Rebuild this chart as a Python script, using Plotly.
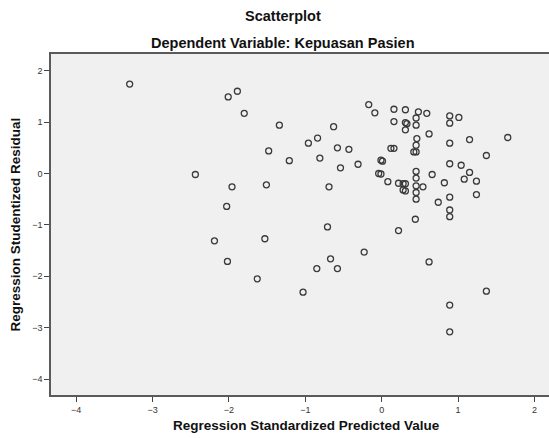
import plotly.graph_objects as go

# Regression Standardized Predicted Value (x) and Regression Studentized Residual (y)
pred = [-3.30, -2.44, -2.01, -1.89, -1.80, -1.34, -1.48, -1.21, -1.96, -1.51,
        -2.03, -0.96, -0.84, -0.63, -0.58, -0.43, -0.81, -0.54, -0.31, -0.69,
        -0.17, -0.09, 0.16, 0.31, 0.48, 0.59, 0.45, 0.16, 0.31, 0.33,
        0.45, 0.31, 0.89, 0.89, 1.01, 0.62, 0.46, 0.45, 0.42, 0.45,
        0.12, 0.16, 0.89, 1.15, 1.65, 1.37, -0.01, 0.01, 0.89, 1.04,
        -0.04, -0.01, 0.08, 0.22, 0.28, 0.31, 0.28, 0.31, 0.45, 0.45,
        0.45, 0.45, 0.45, 0.54, 0.66, 0.82, 0.89, 0.74, 0.89, 0.89,
        1.08, 1.15, 1.24, 1.24, 0.44, 0.22, -0.23, 0.62, 1.37, 0.89,
        0.89, -2.19, -2.02, -1.53, -1.63, -0.71, -0.67, -0.85, -0.58, -1.03]
resid = [1.74, -0.02, 1.49, 1.60, 1.17, 0.94, 0.44, 0.25, -0.26, -0.22,
         -0.64, 0.59, 0.69, 0.91, 0.50, 0.47, 0.30, 0.11, 0.18, -0.26,
         1.34, 1.18, 1.25, 1.24, 1.20, 1.17, 1.08, 1.01, 0.99, 0.97,
         0.94, 0.85, 1.12, 0.98, 1.09, 0.77, 0.68, 0.55, 0.42, 0.42,
         0.49, 0.49, 0.59, 0.66, 0.70, 0.35, 0.26, 0.24, 0.19, 0.16,
         0.00, -0.01, -0.16, -0.19, -0.20, -0.20, -0.32, -0.34, 0.04, -0.09,
         -0.24, -0.37, -0.50, -0.26, -0.02, -0.18, -0.46, -0.56, -0.71, -0.84,
         -0.11, 0.02, -0.15, -0.41, -0.89, -1.11, -1.53, -1.72, -2.29, -2.56,
         -3.08, -1.31, -1.71, -1.27, -2.05, -1.04, -1.66, -1.85, -1.85, -2.31]

x_ticks = [-4, -3, -2, -1, 0, 1, 2]
y_ticks = [-4, -3, -2, -1, 0, 1, 2]

FONT = "Liberation Sans, Arial, sans-serif"

fig = go.Figure()
fig.add_trace(go.Scatter(
    x=pred, y=resid, mode="markers",
    marker=dict(symbol="circle-open", size=6, color="#3a3a3a",
                line=dict(width=1.3, color="#3a3a3a")),
    hoverinfo="x+y", showlegend=False,
))

axis_common = dict(
    showgrid=False, zeroline=False, showline=True, linecolor="#5a5a5a",
    linewidth=1.6, ticks="outside", ticklen=5, tickwidth=1.2, tickcolor="#444",
    tickfont=dict(family=FONT, size=9, color="#333"),
)

fig.update_layout(
    width=549, height=438,
    margin=dict(l=51, r=0, t=54, b=43),
    paper_bgcolor="white", plot_bgcolor="#f0f0f0",
    xaxis=dict(range=[-4.33, 2.19], tickvals=x_ticks, mirror=True, **axis_common),
    yaxis=dict(range=[-4.31, 2.325], tickvals=y_ticks, **axis_common),
    font=dict(family=FONT),
    annotations=[
        dict(text="<b>Scatterplot</b>", xref="paper", yref="paper",
             x=(283 - 51) / 498, y=(395 - 16) / 341, xanchor="center", yanchor="middle",
             showarrow=False, font=dict(family=FONT, size=14.5, color="#111")),
        dict(text="<b>Dependent Variable: Kepuasan Pasien</b>", xref="paper", yref="paper",
             x=(283 - 51) / 498, y=(395 - 43) / 341, xanchor="center", yanchor="middle",
             showarrow=False, font=dict(family=FONT, size=14.5, color="#111")),
        dict(text="<b>Regression Standardized Predicted Value</b>", xref="paper", yref="paper",
             x=(306 - 51) / 498, y=(395 - 425) / 341, xanchor="center", yanchor="middle",
             showarrow=False, font=dict(family=FONT, size=13.5, color="#111")),
        dict(text="<b>Regression Studentized Residual</b>", xref="paper", yref="paper",
             x=(15 - 51) / 498, y=0.5, xanchor="center", yanchor="middle", textangle=-90,
             showarrow=False, font=dict(family=FONT, size=13.5, color="#111")),
    ],
)

fig.write_html(
    "out.html",
    config={"displayModeBar": False},
    post_script="document.body.style.margin='0px';document.body.style.overflow='hidden';",
)
